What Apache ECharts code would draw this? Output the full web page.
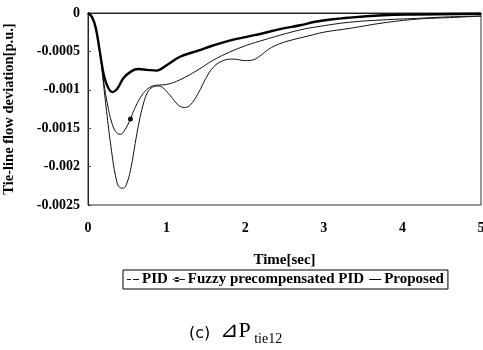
<!DOCTYPE html>
<html><head><meta charset="utf-8">
<script src="https://cdn.jsdelivr.net/npm/echarts@6/dist/echarts.min.js"></script>
<style>html,body{margin:0;padding:0;background:#fff}#c{width:483px;height:350px}</style>
</head><body><div id="c"></div>
<script>
var xTicks = [0, 1, 2, 3, 4, 5];
var yTicks = [0, -0.0005, -0.001, -0.0015, -0.002, -0.0025];
var seriesNames = ['PID', 'Fuzzy precompensated PID', 'Proposed'];
var pid = [[0,0],[0.05,-0.00005],[0.1,-0.0002],[0.15,-0.0005],[0.2,-0.00095],[0.25,-0.0014],[0.3,-0.0018],[0.35,-0.00212],[0.4,-0.00227],[0.45,-0.00228],[0.5,-0.0022],[0.55,-0.002],[0.6,-0.0017],[0.65,-0.00142],[0.7,-0.0012],[0.75,-0.00105],[0.8,-0.00098],[0.88,-0.00095],[0.95,-0.00097],[1.05,-0.00108],[1.15,-0.0012],[1.23,-0.00123],[1.3,-0.0012],[1.4,-0.00105],[1.5,-0.00085],[1.6,-0.0007],[1.72,-0.00062],[1.85,-0.0006],[2.0,-0.00062],[2.1,-0.00061],[2.2,-0.00055],[2.3,-0.00047],[2.44,-0.0004],[2.6,-0.00035],[2.8,-0.0003],[3.0,-0.00025],[3.33,-0.0002],[3.75,-0.00013],[4.18,-0.00008],[4.6,-0.00006],[5,-0.00004]];
var fuzzy = [[0,0],[0.05,-0.00005],[0.1,-0.0002],[0.15,-0.0005],[0.2,-0.0009],[0.25,-0.0012],[0.3,-0.00142],[0.35,-0.00154],[0.41,-0.00158],[0.47,-0.00152],[0.54,-0.00138],[0.6,-0.00123],[0.7,-0.00105],[0.8,-0.00096],[0.88,-0.00094],[1.0,-0.00093],[1.17,-0.00087],[1.4,-0.00074],[1.6,-0.00061],[1.8,-0.00051],[2.02,-0.00042],[2.24,-0.00035],[2.44,-0.00029],[2.7,-0.00022],[2.91,-0.00018],[3.33,-0.00012],[3.75,-0.00009],[4.18,-0.00007],[4.6,-0.00005],[5,-0.00004]];
var fuzzyMarkerIndex = 10;
var proposed = [[0,0],[0.05,-0.00005],[0.1,-0.0002],[0.15,-0.0005],[0.2,-0.0008],[0.25,-0.00096],[0.31,-0.00103],[0.37,-0.00099],[0.45,-0.00085],[0.55,-0.00076],[0.64,-0.00073],[0.75,-0.00074],[0.87,-0.00075],[1.0,-0.00068],[1.17,-0.00057],[1.4,-0.00049],[1.6,-0.00042],[1.8,-0.00036],[2.02,-0.00031],[2.24,-0.00026],[2.44,-0.00021],[2.7,-0.00016],[2.91,-0.00011],[3.33,-0.00006],[3.75,-0.00003],[4.18,-0.00002],[5,-0.00001]];

var serif = '"Liberation Serif","Times New Roman",serif';
var fuzzyData = fuzzy.map(function(p, i){
  if (i === fuzzyMarkerIndex) return {value: p, symbol: 'circle', symbolSize: 5};
  return {value: p, symbolSize: 0};
});
var chart = echarts.init(document.getElementById('c'));
chart.setOption({
  animation: false,
  grid: {left: 88, top: 13, right: 2, bottom: 145, show: true, borderColor: '#333', borderWidth: 1, containLabel: false, outerBoundsMode: 'none'},
  xAxis: {
    type: 'value', min: 0, max: 5, interval: 1,
    axisLine: {show: true, lineStyle: {color: '#222'}},
    axisTick: {show: false},
    splitLine: {show: false},
    axisLabel: {color: '#000', fontFamily: serif, fontWeight: 'bold', fontSize: 14, margin: 16},
    name: 'Time[sec]', nameLocation: 'middle', nameGap: 48,
    nameTextStyle: {color: '#000', fontFamily: serif, fontWeight: 'bold', fontSize: 15}
  },
  yAxis: {
    type: 'value', min: -0.0025, max: 0, interval: 0.0005,
    axisLine: {show: true, lineStyle: {color: '#222'}},
    axisTick: {show: true, inside: true, length: 3, lineStyle: {color: '#444'}},
    splitLine: {show: false},
    axisLabel: {color: '#000', fontFamily: serif, fontWeight: 'bold', fontSize: 14, margin: 8,
      formatter: function(v){ var s = yTicks.filter(function(t){return Math.abs(t-v)<1e-9;}); return s.length ? String(s[0]) : ''; }},
    name: 'Tie-line flow deviation[p.u.]', nameLocation: 'middle', nameGap: 71, nameRotate: 90,
    nameTextStyle: {color: '#000', fontFamily: serif, fontWeight: 'bold', fontSize: 14.5}
  },
  legend: {
    top: 270, left: 123, width: 360, itemGap: 5, itemWidth: 12, itemHeight: 8,
    borderColor: '#000', borderWidth: 1, padding: [2, 4, 2, 4],
    textStyle: {color: '#000', fontFamily: serif, fontWeight: 'bold', fontSize: 15, padding: [0,0,0,-2]},
    data: [
      {name: seriesNames[0], icon: 'path://M0,4 L4,4 L4,5 L0,5 Z M6,4 L12,4 L12,5 L6,5 Z'},
      {name: seriesNames[1], icon: 'path://M0,4 L12,4 L12,5 L0,5 Z M4,2 A2.5,2.5 0 1 0 4,7 A2.5,2.5 0 1 0 4,2 Z'},
      {name: seriesNames[2], icon: 'path://M0,4 L12,4 L12,5 L0,5 Z'}
    ]
  },
  series: [
    {name: seriesNames[0], type: 'line', data: pid, smooth: 0.4, symbol: 'none', lineStyle: {color: '#111', width: 1}, itemStyle: {color: '#111'}},
    {name: seriesNames[1], type: 'line', data: fuzzyData, smooth: 0.4, symbol: 'circle', showSymbol: true, showAllSymbol: true, lineStyle: {color: '#111', width: 1}, itemStyle: {color: '#111'}},
    {name: seriesNames[2], type: 'line', data: proposed, smooth: 0.4, symbol: 'none', lineStyle: {color: '#000', width: 2.4}, itemStyle: {color: '#000'}}
  ],
  graphic: [{
    type: 'text', left: 189, top: 320,
    style: {
      text: '{a|(c)  }{b|⊿P}{c| tie12}',
      rich: {
        a: {fontFamily: '"DejaVu Sans",sans-serif', fontSize: 16, fill: '#000', verticalAlign: 'bottom'},
        b: {fontFamily: serif, fontSize: 22, fill: '#000', verticalAlign: 'bottom'},
        c: {fontFamily: serif, fontSize: 14, fill: '#000', verticalAlign: 'bottom', padding: [0,0,-4,0]}
      }
    }
  }]
});
</script></body></html>
